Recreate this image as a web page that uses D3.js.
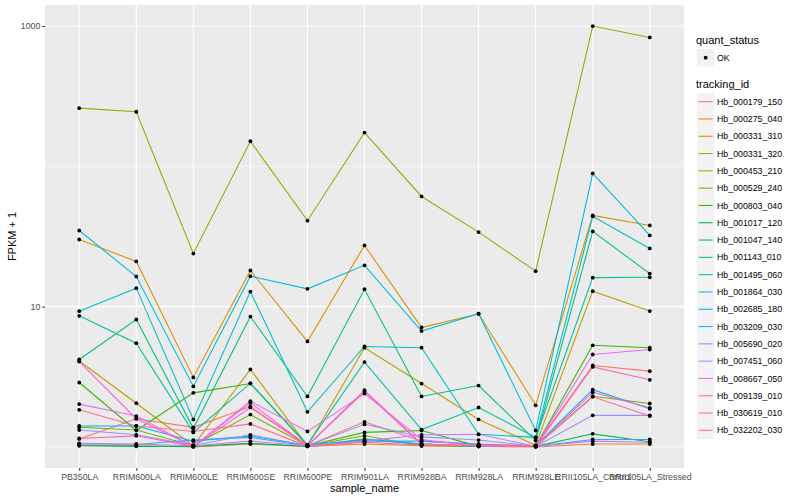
<!DOCTYPE html>
<html>
<head>
<meta charset="utf-8">
<script src="https://cdn.jsdelivr.net/npm/d3@7"></script>
<style>
  html, body { margin: 0; padding: 0; background: #ffffff; }
  svg { display: block; font-family: "Liberation Sans", Arial, Helvetica, sans-serif; }
</style>
</head>
<body>
<svg id="chart" width="800" height="500"></svg>
<script>
// ---- data ----
const samples = ["PB350LA", "RRIM600LA", "RRIM600LE", "RRIM600SE", "RRIM600PE", "RRIM901LA",
  "RRIM928BA", "RRIM928LA", "RRIM928LE", "RRII105LA_Control", "RRII105LA_Stressed"];

const trackingIds = ["Hb_000179_150", "Hb_000275_040", "Hb_000331_310", "Hb_000331_320", "Hb_000453_210",
  "Hb_000529_240", "Hb_000803_040", "Hb_001017_120", "Hb_001047_140", "Hb_001143_010",
  "Hb_001495_060", "Hb_001864_030", "Hb_002685_180", "Hb_003209_030", "Hb_005690_020",
  "Hb_007451_060", "Hb_008667_050", "Hb_009139_010", "Hb_030619_010", "Hb_032202_030"];

// FPKM + 1 per sample (same order as samples)
const hb_000179_150 = [1.14, 1.59, 1.38, 1.94, 1.02, 1.51, 1.10, 1.05, 1.02, 3.81, 3.47];
const hb_000275_040 = [1.03, 1.02, 1.00, 1.05, 1.01, 1.05, 1.02, 1.01, 1.00, 1.05, 1.05];
const hb_000331_310 = [30.1, 21.0, 3.13, 18.1, 5.65, 27.3, 7.1, 8.9, 1.98, 44.7, 37.9];
const hb_000331_320 = [4.1, 2.05, 1.02, 3.57, 1.02, 5.1, 2.83, 1.57, 1.03, 12.9, 9.3];
const hb_000453_210 = [260, 245, 23.9, 151, 41, 174, 61, 34, 17.9, 1000, 829];
const hb_000529_240 = [1.38, 1.32, 1.02, 1.70, 1.02, 1.20, 1.02, 1.01, 1.01, 2.30, 2.04];
const hb_000803_040 = [2.88, 1.31, 2.43, 2.83, 1.02, 1.27, 1.31, 1.01, 1.01, 5.30, 5.10];
const hb_001017_120 = [1.02, 1.01, 1.01, 1.06, 1.01, 1.14, 1.05, 1.01, 1.01, 1.24, 1.09];
const hb_001047_140 = [4.2, 8.1, 1.36, 8.5, 2.29, 13.3, 2.29, 2.74, 1.11, 34.4, 17.2];
const hb_001143_010 = [8.6, 5.49, 1.27, 2.85, 1.04, 4.02, 1.33, 1.91, 1.17, 16.1, 16.2];
const hb_001495_060 = [9.29, 13.55, 1.57, 12.8, 1.78, 5.2, 5.1, 1.23, 1.17, 44, 26];
const hb_001864_030 = [34.9, 16.4, 2.7, 16.5, 13.4, 19.7, 6.7, 8.9, 1.31, 89, 32.2];
const hb_002685_180 = [1.41, 1.41, 1.10, 1.20, 1.03, 1.12, 1.05, 1.01, 1.02, 2.56, 1.87];
const hb_003209_030 = [1.06, 1.04, 1.12, 1.17, 1.02, 1.10, 1.10, 1.04, 1.01, 1.13, 1.13];
const hb_005690_020 = [1.32, 1.22, 1.03, 1.22, 1.02, 1.45, 1.18, 1.12, 1.01, 1.68, 1.68];
const hb_007451_060 = [1.05, 1.05, 1.02, 1.10, 1.02, 1.10, 1.22, 1.23, 1.01, 1.10, 1.08];
const hb_008667_050 = [2.02, 1.66, 1.01, 2.12, 1.29, 2.40, 1.13, 1.01, 1.01, 4.56, 4.95];
const hb_009139_010 = [4.06, 1.59, 1.01, 2.06, 1.02, 2.54, 1.05, 1.02, 1.01, 2.45, 1.90];
const hb_030619_010 = [1.15, 1.20, 1.01, 1.91, 1.02, 2.48, 1.04, 1.02, 1.01, 3.72, 3.01];
const hb_032202_030 = [1.84, 1.41, 1.29, 1.46, 1.01, 1.08, 1.03, 1.02, 1.01, 2.28, 1.66];

const seriesValues = [hb_000179_150, hb_000275_040, hb_000331_310, hb_000331_320, hb_000453_210,
  hb_000529_240, hb_000803_040, hb_001017_120, hb_001047_140, hb_001143_010,
  hb_001495_060, hb_001864_030, hb_002685_180, hb_003209_030, hb_005690_020,
  hb_007451_060, hb_008667_050, hb_009139_010, hb_030619_010, hb_032202_030];

const quantStatus = ["OK"];
const yMajorTicks = [10, 1000];
const yMinorTicks = [1, 100];

// ggplot2 default hue palette for 20 levels
const palette = ["#F8766D", "#EA8331", "#D89000", "#C09B00", "#A3A500", "#7CAE00", "#39B600", "#00BB4E",
  "#00BF7D", "#00C1A3", "#00BFC4", "#00BAE0", "#00B0F6", "#35A2FF", "#9590FF", "#C77CFF",
  "#E76BF3", "#FA62DB", "#FF62BC", "#FF6C91"];

// ---- layout ----
const svg = d3.select("#chart");
const panel = { left: 45, top: 5, right: 684, bottom: 468 };

const series = trackingIds.map((id, i) => ({
  id, color: palette[i],
  values: samples.map((s, j) => ({ sample: s, value: seriesValues[i][j] }))
}));

const x = d3.scalePoint().domain(samples)
  .range([panel.left, panel.right]).padding(0.6);

const allVals = seriesValues.flat();
const lmin = Math.log10(d3.min(allVals)), lmax = Math.log10(d3.max(allVals));
const lexp = (lmax - lmin) * 0.05;
const y = d3.scaleLog().domain([Math.pow(10, lmin - lexp), Math.pow(10, lmax + lexp)])
  .range([panel.bottom, panel.top]);

// panel background
svg.append("rect")
  .attr("x", panel.left).attr("y", panel.top)
  .attr("width", panel.right - panel.left).attr("height", panel.bottom - panel.top)
  .attr("fill", "#EBEBEB");

const grid = svg.append("g");
grid.selectAll("line.minor").data(yMinorTicks).join("line")
  .attr("x1", panel.left).attr("x2", panel.right)
  .attr("y1", d => y(d)).attr("y2", d => y(d))
  .attr("stroke", "#ffffff").attr("stroke-width", 0.55);
grid.selectAll("line.majory").data(yMajorTicks).join("line")
  .attr("x1", panel.left).attr("x2", panel.right)
  .attr("y1", d => y(d)).attr("y2", d => y(d))
  .attr("stroke", "#ffffff").attr("stroke-width", 1.1);
grid.selectAll("line.majorx").data(samples).join("line")
  .attr("x1", d => x(d)).attr("x2", d => x(d))
  .attr("y1", panel.top).attr("y2", panel.bottom)
  .attr("stroke", "#ffffff").attr("stroke-width", 1.1);

// lines
const line = d3.line().x(d => x(d.sample)).y(d => y(d.value));
svg.append("g").selectAll("path").data(series).join("path")
  .attr("d", d => line(d.values))
  .attr("fill", "none")
  .attr("stroke", d => d.color)
  .attr("stroke-width", 1.07);

// points
svg.append("g").selectAll("g").data(series).join("g")
  .selectAll("circle").data(d => d.values).join("circle")
  .attr("cx", d => x(d.sample)).attr("cy", d => y(d.value))
  .attr("r", 1.9).attr("fill", "#000000");

// axes
const yAxis = d3.axisLeft(y).tickValues(yMajorTicks).tickFormat(d3.format("d"))
  .tickSize(2.7).tickPadding(2);
const gy = svg.append("g").attr("transform", `translate(${panel.left},0)`).call(yAxis);
gy.select(".domain").remove();
gy.selectAll(".tick line").attr("stroke", "#333333").attr("stroke-width", 1.07);
gy.selectAll(".tick text").attr("fill", "#4D4D4D").style("font-size", "8.8px")
  .style("font-family", "'Liberation Sans', Arial, sans-serif");

const xAxis = d3.axisBottom(x).tickSize(2.7).tickPadding(3);
const gx = svg.append("g").attr("transform", `translate(0,${panel.bottom})`).call(xAxis);
gx.select(".domain").remove();
gx.selectAll(".tick line").attr("stroke", "#333333").attr("stroke-width", 1.07);
gx.selectAll(".tick text").attr("fill", "#4D4D4D").style("font-size", "8.8px")
  .style("font-family", "'Liberation Sans', Arial, sans-serif");

// axis titles
svg.append("text")
  .attr("x", (panel.left + panel.right) / 2).attr("y", 492)
  .attr("text-anchor", "middle").attr("fill", "#000000")
  .style("font-size", "11px").text("sample_name");
svg.append("text")
  .attr("transform", `translate(16,${(panel.top + panel.bottom) / 2}) rotate(-90)`)
  .attr("text-anchor", "middle").attr("fill", "#000000")
  .style("font-size", "11px").text("FPKM + 1");

// legend: quant_status
const lg = svg.append("g");
const keyX = 697, keySize = 17.3, textX = 717;
lg.append("text").attr("x", 696).attr("y", 44).style("font-size", "11px")
  .attr("fill", "#000").text("quant_status");
const qs = lg.selectAll("g.qs").data(quantStatus).join("g")
  .attr("transform", (d, i) => `translate(0,${49 + i * keySize})`);
qs.append("rect").attr("x", keyX).attr("y", 0).attr("width", keySize).attr("height", keySize)
  .attr("fill", "#F2F2F2");
qs.append("circle").attr("cx", keyX + keySize / 2).attr("cy", keySize / 2).attr("r", 1.9)
  .attr("fill", "#000");
qs.append("text").attr("x", textX).attr("y", keySize / 2).attr("dy", "0.35em")
  .style("font-size", "8.8px").attr("fill", "#000").text(d => d);

// legend: tracking_id
lg.append("text").attr("x", 696).attr("y", 88).style("font-size", "11px")
  .attr("fill", "#000").text("tracking_id");
const items = lg.selectAll("g.tid").data(series).join("g")
  .attr("transform", (d, i) => `translate(0,${93 + i * keySize})`);
items.append("rect").attr("x", keyX).attr("y", 0).attr("width", keySize).attr("height", keySize)
  .attr("fill", "#F2F2F2");
items.append("line").attr("x1", keyX + 1.7).attr("x2", keyX + keySize - 1.7)
  .attr("y1", keySize / 2).attr("y2", keySize / 2)
  .attr("stroke", d => d.color).attr("stroke-width", 1.07);
items.append("text").attr("x", textX).attr("y", keySize / 2).attr("dy", "0.35em")
  .style("font-size", "8.8px").attr("fill", "#000").text(d => d.id);
</script>
</body>
</html>
